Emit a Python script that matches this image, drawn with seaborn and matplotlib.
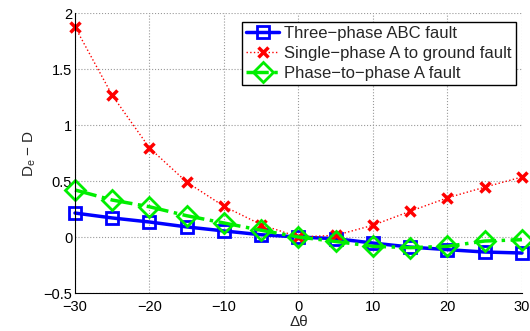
import matplotlib
matplotlib.use("Agg")
import matplotlib.pyplot as plt
import seaborn as sns
import pandas as pd

sns.set_style("white")
plt.rcParams['font.family'] = ['Liberation Sans', 'DejaVu Sans']
plt.rcParams['mathtext.fontset'] = 'custom'
plt.rcParams['mathtext.rm'] = 'Liberation Sans'
plt.rcParams['mathtext.it'] = 'Liberation Sans'

dtheta = [-30, -25, -20, -15, -10, -5, 0, 5, 10, 15, 20, 25, 30]
three_phase = [0.214, 0.17, 0.134, 0.09, 0.054, 0.02, 0.0, -0.015, -0.054, -0.09, -0.113, -0.134, -0.143]
single_phase = [1.875, 1.265, 0.795, 0.49, 0.274, 0.11, 0.0, 0.015, 0.105, 0.23, 0.35, 0.445, 0.536]
phase_to_phase = [0.42, 0.33, 0.27, 0.19, 0.125, 0.06, 0.0, -0.04, -0.083, -0.095, -0.083, -0.036, -0.024]
labels = ["Three\u2212phase ABC fault", "Single\u2212phase A to ground fault", "Phase\u2212to\u2212phase A fault"]

fig = plt.figure(figsize=(5.3, 3.31), dpi=100)
ax = fig.add_axes([0.1415, 0.1148, 0.8434, 0.8459])

df = pd.DataFrame({"x": dtheta, "a": three_phase, "b": single_phase, "c": phase_to_phase})

sns.lineplot(data=df, x="x", y="a", ax=ax, color="#0000ff", lw=2.5, marker="s", ms=9,
             markerfacecolor="none", markeredgecolor="#0000ff", markeredgewidth=2, label=labels[0],
             clip_on=False)
sns.lineplot(data=df, x="x", y="b", ax=ax, color="#ff0000", lw=1, linestyle=":", marker="x", ms=7,
             markerfacecolor="#ff0000", markeredgecolor="#ff0000", markeredgewidth=2.5, label=labels[1],
             clip_on=False)
sns.lineplot(data=df, x="x", y="c", ax=ax, color="#00ee00", lw=2.5, linestyle="-.", marker="D", ms=10,
             markerfacecolor="none", markeredgecolor="#00ee00", markeredgewidth=2, label=labels[2],
             clip_on=False)

ax.set_xlim(-30, 30)
ax.set_ylim(-0.5, 2)
ax.set_xticks([-30, -20, -10, 0, 10, 20, 30])
ax.set_yticks([-0.5, 0, 0.5, 1, 1.5, 2])
ax.set_xticklabels(["\u221230", "\u221220", "\u221210", "0", "10", "20", "30"])
ax.set_yticklabels(["\u22120.5", "0", "0.5", "1", "1.5", "2"])
ax.tick_params(direction="in", length=4, labelsize=10.5, colors="black", pad=2)
ax.tick_params(axis="x", pad=5)
ax.grid(True, linestyle=":", color="#999999", lw=0.8)
for side in ["top", "right"]:
    ax.spines[side].set_visible(False)
for side in ["left", "bottom"]:
    ax.spines[side].set_color("black")
    ax.spines[side].set_linewidth(0.8)
ax.set_xlabel("\u0394\u03b8", fontsize=11, labelpad=1)
ax.set_ylabel("D$_e$ \u2212 D", fontsize=11, labelpad=4)

leg = ax.legend(loc="upper right", bbox_to_anchor=(0.9866, 0.968), fontsize=12, frameon=True,
                fancybox=False, edgecolor="black", framealpha=1, borderpad=0.25,
                labelspacing=0.3, handlelength=2.0, handletextpad=0.3, borderaxespad=0)
leg.get_frame().set_linewidth(1)
leg.set_zorder(10)

fig.savefig("out.png", dpi=100)
